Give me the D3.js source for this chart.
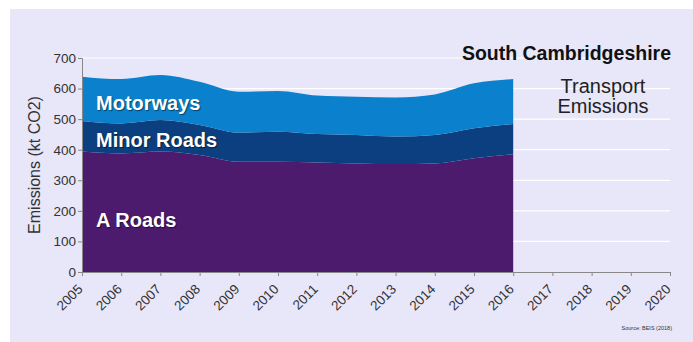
<!DOCTYPE html>
<html><head><meta charset="utf-8">
<script src="https://cdn.jsdelivr.net/npm/d3@7"></script>
<style>body{margin:0;background:#fff}svg{display:block;font-family:"Liberation Sans",Arial,sans-serif}</style>
</head><body>
<svg id="c" width="693" height="342"></svg>
<script>
const years = [2005,2006,2007,2008,2009,2010,2011,2012,2013,2014,2015,2016];
const axisYears = d3.range(2005, 2021);
const aRoads = [394,388,394,383,361,361,358,355,353,355,372,385];
const minorRoads = [100,98,103,98,95,98,93,93,90,93,98,99];
const motorways = [145,145,147,141,134,133,126,125,128,133,147,147];
const seriesNames = ["A Roads","Minor Roads","Motorways"];
const colors = ["#4d1b6d","#0b3f7f","#0b80cc"];
const yTicks = [0,100,200,300,400,500,600,700];

const svg = d3.select("#c");
svg.append("rect").attr("x",10).attr("y",9).attr("width",683).attr("height",333).attr("fill","#e8e6f9");

const x = d3.scaleLinear().domain([2005,2020]).range([82,670]);
const y = d3.scaleLinear().domain([0,700]).range([272,58]);

// gridlines
svg.append("g").selectAll("line").data(yTicks.slice(1)).join("line")
  .attr("x1",x(2005)).attr("x2",x(2020)).attr("y1",d=>y(d)).attr("y2",d=>y(d))
  .attr("stroke","#ffffff").attr("stroke-width",1.2);

const table = years.map((yr,i)=>({year:yr,"A Roads":aRoads[i],"Minor Roads":minorRoads[i],"Motorways":motorways[i]}));
const stack = d3.stack().keys(seriesNames)(table);
const area = d3.area().x(d=>x(d.data.year)).y0(d=>y(d[0])).y1(d=>y(d[1])).curve(d3.curveMonotoneX);
svg.append("g").selectAll("path").data(stack).join("path")
  .attr("d",area).attr("fill",(d,i)=>colors[i]);

// axes
const yAxis = svg.append("g").attr("transform",`translate(${x(2005)},0)`)
  .call(d3.axisLeft(y).tickValues(yTicks).tickSize(4).tickPadding(2));
yAxis.select(".domain").attr("stroke","#888");
yAxis.selectAll(".tick line").attr("stroke","#888");
yAxis.selectAll("text").attr("font-size",13.5).attr("fill","#333").attr("font-family","Liberation Sans, Arial, sans-serif");

const xAxis = svg.append("g").attr("transform",`translate(0,${y(0)})`)
  .call(d3.axisBottom(x).tickValues(axisYears).tickFormat(d3.format("d")).tickSize(4).tickSizeOuter(0));
xAxis.select(".domain").attr("stroke","#888");
xAxis.selectAll(".tick line").attr("stroke","#888");
xAxis.selectAll("text").attr("font-size",13.5).attr("fill","#333").attr("font-family","Liberation Sans, Arial, sans-serif")
  .attr("text-anchor","end").attr("dy",null).attr("dx",null)
  .attr("transform","translate(1,18) rotate(-45)").attr("y",0).attr("x",0);

svg.append("text").attr("transform","translate(40,165) rotate(-90)").attr("text-anchor","middle")
  .attr("font-size",16).attr("fill","#333").text("Emissions (kt CO2)");

// series labels
const labelData = [{t:"Motorways",y:110},{t:"Minor Roads",y:147},{t:"A Roads",y:227}];
svg.append("g").selectAll("text").data(labelData).join("text")
  .attr("x",96).attr("y",d=>d.y).attr("font-size",20).attr("font-weight","bold").attr("fill","#fff")
  .style("text-shadow","1px 1px 1px rgba(0,0,0,0.5)").text(d=>d.t);

svg.append("text").attr("x",671).attr("y",60).attr("text-anchor","end").attr("font-size",19.5)
  .attr("font-weight","bold").attr("fill","#111").text("South Cambridgeshire");
svg.append("text").attr("x",603).attr("y",93).attr("text-anchor","middle").attr("font-size",20).attr("fill","#222").text("Transport");
svg.append("text").attr("x",603).attr("y",113).attr("text-anchor","middle").attr("font-size",20).attr("fill","#222").text("Emissions");
svg.append("text").attr("x",672).attr("y",330).attr("text-anchor","end").attr("font-size",5.5).attr("fill","#333").text("Source: BEIS (2018)");
</script>
</body></html>
